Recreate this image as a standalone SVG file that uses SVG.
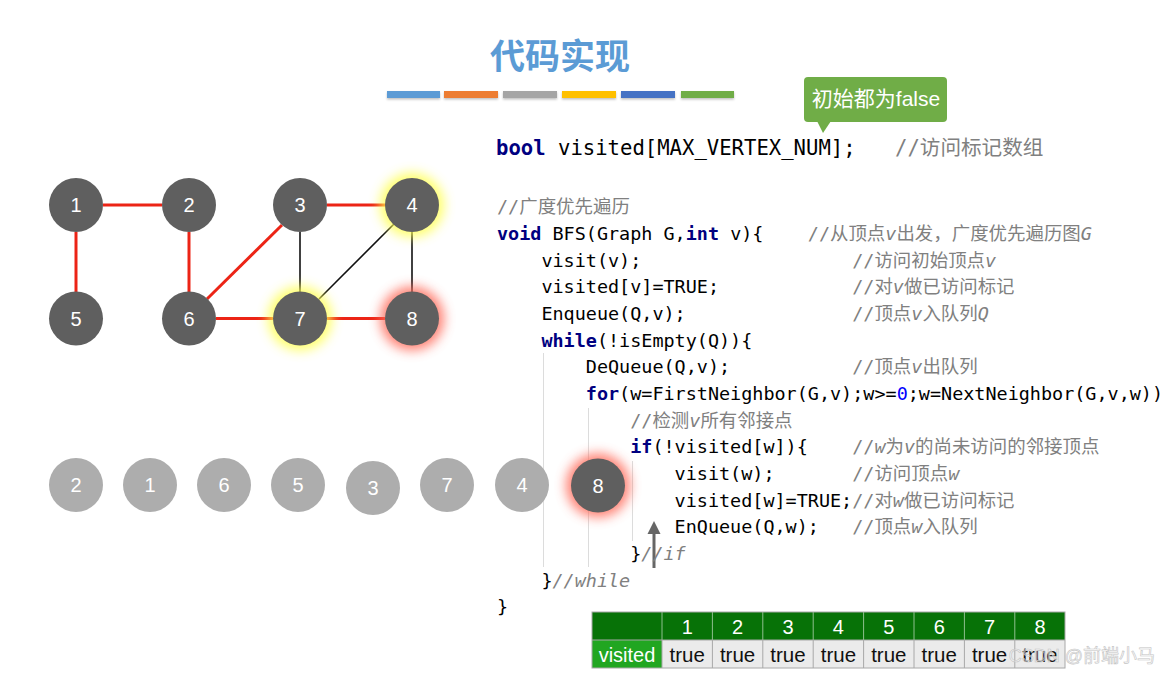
<svg xmlns="http://www.w3.org/2000/svg" width="1161" height="674" viewBox="0 0 1161 674">
<style>
.node circle{fill:#5f5f5f}
.qn circle{fill:#adadad}
.lbl{font-family:"Liberation Sans",Arial,sans-serif;font-size:20px;fill:#fff;text-anchor:middle}
.code{font-family:"DejaVu Sans Mono","Noto Sans CJK SC",monospace;font-size:18.45px;fill:#000}
.kw{fill:#000080;font-weight:bold}
.num{fill:#0000ff}
.cm{fill:#808080}
.it{font-style:italic}
.red{stroke:#ec2416;stroke-width:3;fill:none}
.blk{stroke:#111;stroke-width:1.6;fill:none}
.guide{stroke:#dcdcdc;stroke-width:1}
.th{font-family:"Liberation Sans",Arial,sans-serif;font-size:20px;fill:#fff;text-anchor:middle}
.td{font-family:"Liberation Sans",Arial,sans-serif;font-size:20.5px;fill:#111;text-anchor:middle}
.glowY{fill:#ffff50;opacity:0.85}
.glowR{fill:#ff6a5a;opacity:0.85}
</style>
<defs>
<filter id="blur" x="-60%" y="-60%" width="220%" height="220%"><feGaussianBlur stdDeviation="6"/></filter>
<filter id="sh" x="-10%" y="-50%" width="120%" height="250%"><feDropShadow dx="0" dy="1.5" stdDeviation="1" flood-color="#000" flood-opacity="0.25"/></filter>
</defs>
<rect width="1161" height="674" fill="#fff"/>

<!-- title -->
<text x="560" y="69" font-family="'Noto Sans CJK SC',sans-serif" font-size="35" font-weight="bold" fill="#5b9bd5" text-anchor="middle">代码实现</text>
<g id="bars" filter="url(#sh)">
<rect x="387" y="91" width="53" height="7" fill="#5b9bd5"/>
<rect x="444" y="91" width="54" height="7" fill="#ed7d31"/>
<rect x="503" y="91" width="54" height="7" fill="#a5a5a5"/>
<rect x="562" y="91" width="54" height="7" fill="#ffc000"/>
<rect x="621" y="91" width="54" height="7" fill="#4472c4"/>
<rect x="681" y="91" width="53" height="7" fill="#70ad47"/>
</g>

<!-- callout -->
<g id="callout">
<rect x="804" y="77" width="143" height="45" rx="4" fill="#70ad47"/>
<polygon points="817,121 831,121 823,133" fill="#70ad47"/>
<text x="876" y="106" font-family="'Liberation Sans','Noto Sans CJK SC',sans-serif" font-size="21" fill="#fff" text-anchor="middle">初始都为false</text>
</g>

<!-- graph edges -->
<g id="connectors">
<line class="red" x1="103" y1="205" x2="162" y2="205"/>
<line class="red" x1="76" y1="232" x2="76" y2="292"/>
<line class="red" x1="189" y1="232" x2="189" y2="292"/>
<line class="red" x1="207" y1="299" x2="282" y2="225"/>
<line class="red" x1="327" y1="205" x2="386" y2="205"/>
<line class="red" x1="216" y1="318.5" x2="273" y2="318.5"/>
<line class="red" x1="327" y1="318.5" x2="385" y2="318.5"/>
<line class="blk" x1="300" y1="232" x2="300" y2="292"/>
<line class="blk" x1="319" y1="299" x2="394" y2="224"/>
<line class="blk" x1="412" y1="232" x2="412" y2="292"/>
</g>

<!-- glows -->
<circle class="glowY" cx="412" cy="205" r="32" filter="url(#blur)"/>
<circle class="glowY" cx="300" cy="318.5" r="32" filter="url(#blur)"/>
<circle class="glowR" cx="412" cy="318.5" r="32" filter="url(#blur)"/>

<g id="n1" class="node"><circle cx="76" cy="205" r="27"/><text class="lbl" x="76" y="212">1</text></g>
<g id="n2" class="node"><circle cx="189" cy="205" r="27"/><text class="lbl" x="189" y="212">2</text></g>
<g id="n3" class="node"><circle cx="300" cy="205" r="27"/><text class="lbl" x="300" y="212">3</text></g>
<g id="n4" class="node"><circle cx="412" cy="205" r="27"/><text class="lbl" x="412" y="212">4</text></g>
<g id="n5" class="node"><circle cx="76" cy="318.5" r="27"/><text class="lbl" x="76" y="325.5">5</text></g>
<g id="n6" class="node"><circle cx="189" cy="318.5" r="27"/><text class="lbl" x="189" y="325.5">6</text></g>
<g id="n7" class="node"><circle cx="300" cy="318.5" r="27"/><text class="lbl" x="300" y="325.5">7</text></g>
<g id="n8" class="node"><circle cx="412" cy="318.5" r="27"/><text class="lbl" x="412" y="325.5">8</text></g>

<!-- indent guides -->
<g id="guides">
<line class="guide" x1="543.5" y1="353" x2="543.5" y2="567"/>
<line class="guide" x1="588.5" y1="408" x2="588.5" y2="567"/>
<line class="guide" x1="632.5" y1="461" x2="632.5" y2="541"/>
</g>

<!-- queue -->
<g id="queue">
<g id="q2" class="qn"><circle cx="76" cy="485" r="27"/><text class="lbl" x="76" y="492">2</text></g>
<g id="q1" class="qn"><circle cx="150" cy="485" r="27"/><text class="lbl" x="150" y="492">1</text></g>
<g id="q6" class="qn"><circle cx="224" cy="485" r="27"/><text class="lbl" x="224" y="492">6</text></g>
<g id="q5" class="qn"><circle cx="298" cy="485" r="27"/><text class="lbl" x="298" y="492">5</text></g>
<g id="q3" class="qn"><circle cx="373" cy="488" r="27"/><text class="lbl" x="373" y="495">3</text></g>
<g id="q7" class="qn"><circle cx="447" cy="485" r="27"/><text class="lbl" x="447" y="492">7</text></g>
<g id="q4" class="qn"><circle cx="522" cy="485" r="27"/><text class="lbl" x="522" y="492">4</text></g>
<circle class="glowR" cx="598" cy="485.5" r="32" filter="url(#blur)"/>
<g id="q8" class="node"><circle cx="598" cy="485.5" r="27"/><text class="lbl" x="598" y="492.5">8</text></g>
</g>

<!-- arrow -->
<g id="arrow">
<line x1="654" y1="568" x2="654" y2="532" stroke="#666" stroke-width="3"/>
<polygon points="647.5,534 660.5,534 654,521" fill="#666"/>
</g>

<!-- code -->
<g id="code">
<text x="496" y="155" font-family="'DejaVu Sans Mono',monospace" font-size="20.6"><tspan fill="#000080" font-weight="bold">bool</tspan> visited[MAX_VERTEX_NUM];</text>
<text x="895" y="155" font-family="'DejaVu Sans Mono','Noto Sans CJK SC',monospace" font-size="20.6" fill="#808080">//访问标记数组</text>

<text class="code cm" x="497" y="213.3">//广度优先遍历</text>
<text class="code" x="497" y="240"><tspan class="kw">void</tspan> BFS(Graph G,<tspan class="kw">int</tspan> v){</text>
<text class="code cm" x="807.8" y="240">//从顶点<tspan class="it">v</tspan>出发，广度优先遍历图<tspan class="it">G</tspan></text>
<text class="code" x="541.4" y="266.6">visit(v);</text>
<text class="code cm" x="852.2" y="266.6">//访问初始顶点<tspan class="it">v</tspan></text>
<text class="code" x="541.4" y="293.3">visited[v]=TRUE;</text>
<text class="code cm" x="852.2" y="293.3">//对<tspan class="it">v</tspan>做已访问标记</text>
<text class="code" x="541.4" y="320">Enqueue(Q,v);</text>
<text class="code cm" x="852.2" y="320">//顶点<tspan class="it">v</tspan>入队列<tspan class="it">Q</tspan></text>
<text class="code" x="541.4" y="346.6"><tspan class="kw">while</tspan>(!isEmpty(Q)){</text>
<text class="code" x="585.8" y="373.3">DeQueue(Q,v);</text>
<text class="code cm" x="852.2" y="373.3">//顶点<tspan class="it">v</tspan>出队列</text>
<text class="code" x="585.8" y="400"><tspan class="kw">for</tspan>(w=FirstNeighbor(G,v);w&gt;=<tspan class="num">0</tspan>;w=NextNeighbor(G,v,w))</text>
<text class="code cm" x="630.2" y="426.6">//检测<tspan class="it">v</tspan>所有邻接点</text>
<text class="code" x="630.2" y="453.3"><tspan class="kw">if</tspan>(!visited[w]){</text>
<text class="code cm" x="852.2" y="453.3">//<tspan class="it">w</tspan>为<tspan class="it">v</tspan>的尚未访问的邻接顶点</text>
<text class="code" x="674.6" y="480">visit(w);</text>
<text class="code cm" x="852.2" y="480">//访问顶点<tspan class="it">w</tspan></text>
<text class="code" x="674.6" y="506.6">visited[w]=TRUE;</text>
<text class="code cm" x="852.2" y="506.6">//对<tspan class="it">w</tspan>做已访问标记</text>
<text class="code" x="674.6" y="533.3">EnQueue(Q,w);</text>
<text class="code cm" x="852.2" y="533.3">//顶点<tspan class="it">w</tspan>入队列</text>
<text class="code" x="630.2" y="560">}<tspan class="cm it">//if</tspan></text>
<text class="code" x="541.4" y="586.6">}<tspan class="cm it">//while</tspan></text>
<text class="code" x="497" y="613.3">}</text>
</g>

<!-- table -->
<g id="table">
<rect x="592" y="612" width="473" height="28" fill="#077207"/>
<rect x="592" y="640" width="70" height="28" fill="#21a621"/>
<rect x="662" y="640" width="403" height="28" fill="#ebebeb"/>
<g stroke="#8fbf8f" stroke-width="1">
<line x1="662" y1="612" x2="662" y2="640"/><line x1="712.4" y1="612" x2="712.4" y2="640"/><line x1="762.8" y1="612" x2="762.8" y2="640"/><line x1="813.2" y1="612" x2="813.2" y2="640"/><line x1="863.6" y1="612" x2="863.6" y2="640"/><line x1="914" y1="612" x2="914" y2="640"/><line x1="964.4" y1="612" x2="964.4" y2="640"/><line x1="1014.8" y1="612" x2="1014.8" y2="640"/>
</g>
<g stroke="#a8a8a8" stroke-width="1">
<line x1="662" y1="640" x2="662" y2="668"/><line x1="712.4" y1="640" x2="712.4" y2="668"/><line x1="762.8" y1="640" x2="762.8" y2="668"/><line x1="813.2" y1="640" x2="813.2" y2="668"/><line x1="863.6" y1="640" x2="863.6" y2="668"/><line x1="914" y1="640" x2="914" y2="668"/><line x1="964.4" y1="640" x2="964.4" y2="668"/><line x1="1014.8" y1="640" x2="1014.8" y2="668"/>
<line x1="592" y1="640" x2="1065" y2="640"/>
<rect x="592" y="612" width="473" height="56" fill="none"/>
</g>
<text class="th" x="687.2" y="634">1</text><text class="th" x="737.6" y="634">2</text><text class="th" x="788" y="634">3</text><text class="th" x="838.4" y="634">4</text><text class="th" x="888.8" y="634">5</text><text class="th" x="939.2" y="634">6</text><text class="th" x="989.6" y="634">7</text><text class="th" x="1040" y="634">8</text>
<text class="th" x="627" y="662" font-size="21.5">visited</text>
<text class="td" x="687.2" y="662">true</text><text class="td" x="737.6" y="662">true</text><text class="td" x="788" y="662">true</text><text class="td" x="838.4" y="662">true</text><text class="td" x="888.8" y="662">true</text><text class="td" x="939.2" y="662">true</text><text class="td" x="989.6" y="662">true</text><text class="td" x="1040" y="662">true</text>
</g>

<!-- watermark -->
<text x="1155" y="662" font-family="'Liberation Sans','Noto Sans CJK SC',sans-serif" font-size="18" fill="#ffffff" fill-opacity="0.4" stroke="#c4c4c4" stroke-width="0.6" text-anchor="end">CSDN @前端小马</text>
</svg>
